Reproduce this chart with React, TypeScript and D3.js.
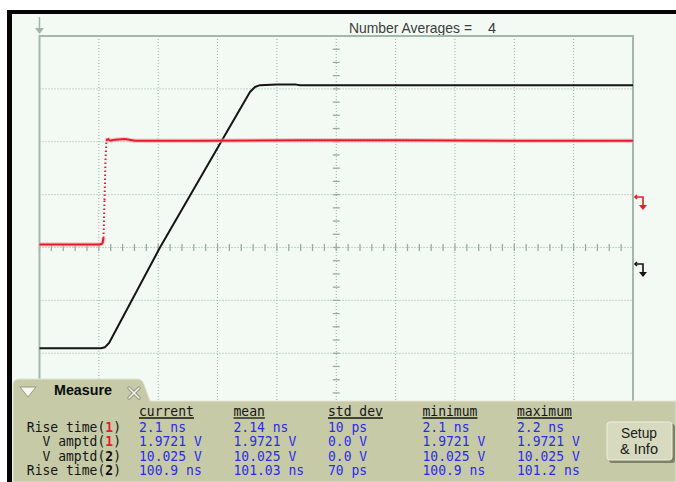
import React from 'react';
import * as d3 from 'd3';

// ---- data ----
const ch1Time = [0, 51.0, 53.1, 53.9, 54.8, 55.6, 56.4, 57.3, 59.4, 63.6, 72.0, 80.5, 135.2, 220, 303.7, 400, 500];
const ch1Volt = [0.057, 0.057, 0.076, 0.18, 0.898, 1.654, 2.013, 2.06, 2.02, 2.04, 2.05, 2.02, 2.02, 2.03, 2.03, 2.02, 2.02];
const ch2Time = [0, 51.8, 55.2, 58.6, 101.5, 152.9, 177.3, 181.5, 185.7, 200.1, 215.3, 219.5, 350, 500];
const ch2Volt = [-3.81, -3.81, -3.77, -3.61, 0, 3.99, 5.88, 6.07, 6.14, 6.17, 6.17, 6.14, 6.14, 6.14];

const measureColumns = ['current', 'mean', 'std dev', 'minimum', 'maximum'];
const measureLabels = ['Rise time', 'V amptd', 'V amptd', 'Rise time'];
const measureChannels = ['1', '1', '2', '2'];
const measureCurrent = ['2.1 ns', '1.9721 V', '10.025 V', '100.9 ns'];
const measureMean = ['2.14 ns', '1.9721 V', '10.025 V', '101.03 ns'];
const measureStd = ['10 ps', '0.0 V', '0.0 V', '70 ps'];
const measureMin = ['2.1 ns', '1.9721 V', '10.025 V', '100.9 ns'];
const measureMax = ['2.2 ns', '1.9721 V', '10.025 V', '101.2 ns'];
const averagesLabel = 'Number Averages =';
const averagesValue = '4';

const W = 676, H = 482;
const L = 39.5, R = 633, T = 36, B = 459;

const x = d3.scaleLinear().domain([0, 500]).range([L, R]);
const y1 = d3.scaleLinear().domain([-4, 4]).range([B, T]);
const y2 = d3.scaleLinear().domain([-8, 8]).range([B, T]);

const BG = '#f3faf4';
const GRID = '#97ae9f';
const FRAME = '#a2b9aa';
const RED = '#e8192c';
const BLUE = '#2b2bea';
const PANEL = '#c6caa6';

const CW = 7.85; // char advance of the measurement font
const MFS = 14;
const MSX = CW / (0.602 * MFS);
const MSY = 1.06;

function Mono({ x0, y0, children, fill = '#151515', weight = 'normal' }: any) {
  return (
    <g transform={`translate(${x0},${y0}) scale(${MSX},${MSY})`}>
      <text fontFamily="DejaVu Sans Mono" fontSize={MFS} fill={fill} fontWeight={weight}>{children}</text>
    </g>
  );
}

function tracePaths(ts: number[], vs: number[], ys: d3.ScaleLinear<number, number>) {
  let solid = '';
  let dotted = '';
  for (let i = 0; i < ts.length - 1; i++) {
    const xa = x(ts[i]), ya = ys(vs[i]), xb = x(ts[i + 1]), yb = ys(vs[i + 1]);
    const steep = Math.abs(yb - ya) > 6 * Math.abs(xb - xa) && Math.abs(yb - ya) > 8;
    const seg = `M${xa},${ya}L${xb},${yb}`;
    if (steep) dotted += seg; else solid += seg;
  }
  return { solid, dotted };
}

export default function App() {
  const vGrid = d3.range(50, 500, 50);
  const hGrid = d3.range(-3, 4, 1);
  const hTicks = d3.range(0, 500.01, 10);
  const vTicks = d3.range(-4, 4.01, 0.25);
  const line2 = d3.line<number>().x((_, i) => x(ch2Time[i])).y((v) => y2(v));
  const red = tracePaths(ch1Time, ch1Volt, y1);

  const colX = (i: number) => 139 + i * 94.5;
  const rowY = (i: number) => 432 + i * 14.4;
  const values = [measureCurrent, measureMean, measureStd, measureMin, measureMax];
  const labelRight = 121;

  const marker = (cx: number, cy: number, color: string) => (
    <g stroke={color} fill="none" strokeWidth={1.6}>
      <path d={`M${cx - 5},${cy - 5} L${cx - 7},${cy - 3} L${cx - 5},${cy - 1}`} />
      <path d={`M${cx - 7},${cy - 3} L${cx + 1},${cy - 3} L${cx + 1},${cy + 6}`} />
      <path d={`M${cx - 3},${cy + 5} L${cx + 5},${cy + 5} L${cx + 1},${cy + 10} Z`} fill={color} stroke="none" />
    </g>
  );

  return (
    <svg width={W} height={H} style={{ position: 'absolute', left: 0, top: 0 }} xmlns="http://www.w3.org/2000/svg">
      <rect x={0} y={0} width={W} height={H} fill="#ffffff" />
      <rect x={12} y={14} width={W - 12} height={H - 14} fill={BG} />
      {/* black border */}
      <rect x={7} y={10} width={W - 7} height={4} fill="#050505" />
      <rect x={7} y={10} width={5} height={H - 10} fill="#050505" />

      {/* header text */}
      <text x={349} y={33} fontFamily="Liberation Sans, Arial, sans-serif" fontSize={15} fill="#3c3c3c"
        textLength={123} lengthAdjust="spacingAndGlyphs">{averagesLabel}</text>
      <text x={488} y={33} fontFamily="Liberation Sans, Arial, sans-serif" fontSize={15} fill="#3c3c3c"
        textLength={8} lengthAdjust="spacingAndGlyphs">{averagesValue}</text>

      {/* trigger arrow */}
      <g stroke="#a3b4aa" fill="#a3b4aa">
        <line x1={L} y1={17} x2={L} y2={29} strokeWidth={1.5} />
        <path d={`M${L - 4.5},${28} L${L + 4.5},${28} L${L},${34} Z`} stroke="none" />
      </g>

      {/* grid */}
      <g stroke={GRID} strokeWidth={1} strokeDasharray="1,2">
        {vGrid.map((t) => <line key={'v' + t} x1={x(t)} x2={x(t)} y1={T} y2={B} />)}
        {hGrid.map((v) => <line key={'h' + v} x1={L} x2={R} y1={y1(v)} y2={y1(v)} />)}
      </g>
      <g stroke={GRID} strokeWidth={1.3}>
        {hTicks.map((t) => <line key={'ht' + t} x1={x(t)} x2={x(t)} y1={y1(0) - 3.5} y2={y1(0) + 3.5} />)}
        {vTicks.map((v) => <line key={'vt' + v} x1={x(250) - 3.5} x2={x(250) + 3.5} y1={y1(v)} y2={y1(v)} />)}
      </g>
      <rect x={L} y={T} width={R - L} height={B - T} fill="none" stroke={FRAME} strokeWidth={2} />

      {/* traces */}
      <path d={line2(ch2Volt) || ''} fill="none" stroke="#151515" strokeWidth={2} strokeLinejoin="round" />
      <path d={red.solid} fill="none" stroke="#f5a3ab" strokeWidth={4.5} opacity={0.55} />
      <path d={red.solid} fill="none" stroke={RED} strokeWidth={2} strokeLinejoin="round" />
      <path d={red.dotted} fill="none" stroke={RED} strokeWidth={2} strokeDasharray="1.5,2.5" />

      {/* channel markers */}
      {marker(642, 200, RED)}
      {marker(642, 267, '#151515')}

      {/* measure panel */}
      <path d={`M13,${H} L13,385 Q13,379 19,379 L137,379 Q142,379 144,384 L150,401 L${W},401 L${W},${H} Z`}
        fill={PANEL} stroke="#e4e7d2" strokeWidth={1} />
      <path d={`M20,387 L36,387 L28,397 Z`} fill="#f6f6f2" stroke="#8e917a" strokeWidth={0.9} />
      <text x={54} y={395} fontFamily="Liberation Sans, Arial, sans-serif" fontWeight="bold" fontSize={15}
        fill="#0a0a0a" textLength={58} lengthAdjust="spacingAndGlyphs">Measure</text>
      <g stroke="#8e917a" strokeWidth={3.2} strokeLinecap="round">
        <line x1={129} y1={388} x2={139} y2={398} />
        <line x1={139} y1={388} x2={129} y2={398} />
      </g>
      <g stroke="#f2f2ee" strokeWidth={1.6} strokeLinecap="round">
        <line x1={129} y1={388} x2={139} y2={398} />
        <line x1={139} y1={388} x2={129} y2={398} />
      </g>

      {/* column headers */}
      {measureColumns.map((c, i) => (
        <g key={c}>
          <Mono x0={colX(i)} y0={416} fill="#151515">{c}</Mono>
          <line x1={colX(i)} x2={colX(i) + c.length * CW} y1={418} y2={418} stroke="#151515" strokeWidth={1.3} />
        </g>
      ))}

      {/* row labels */}
      {measureLabels.map((lab, r) => {
        const full = lab + '(' + measureChannels[r] + ')';
        const start = labelRight - full.length * CW;
        return (
          <g key={'lab' + r}>
            <Mono x0={start} y0={rowY(r)}>{lab + '('}</Mono>
            <Mono x0={start + (lab.length + 1) * CW} y0={rowY(r)} weight="bold"
              fill={measureChannels[r] === '1' ? RED : '#0a0a0a'}>{measureChannels[r]}</Mono>
            <Mono x0={start + (lab.length + 2) * CW} y0={rowY(r)}>{')'}</Mono>
          </g>
        );
      })}

      {/* values */}
      {values.map((col, ci) => col.map((v, r) => (
        <Mono key={ci + '-' + r} x0={colX(ci)} y0={rowY(r)} fill={BLUE}>{v}</Mono>
      )))}

      {/* Setup & Info button */}
      <rect x={609} y={424} width={66} height={39} rx={3} fill="#7f826a" />
      <rect x={607} y={422} width={65} height={38} rx={3} fill="#d7dabf" stroke="#eef0df" strokeWidth={1} />
      <text x={639} y={438} textAnchor="middle" fontFamily="Liberation Sans, Arial, sans-serif" fontSize={15}
        fill="#1a1a1a" textLength={36} lengthAdjust="spacingAndGlyphs">Setup</text>
      <text x={639} y={454} textAnchor="middle" fontFamily="Liberation Sans, Arial, sans-serif" fontSize={15}
        fill="#1a1a1a" textLength={38} lengthAdjust="spacingAndGlyphs">&amp; Info</text>
    </svg>
  );
}
